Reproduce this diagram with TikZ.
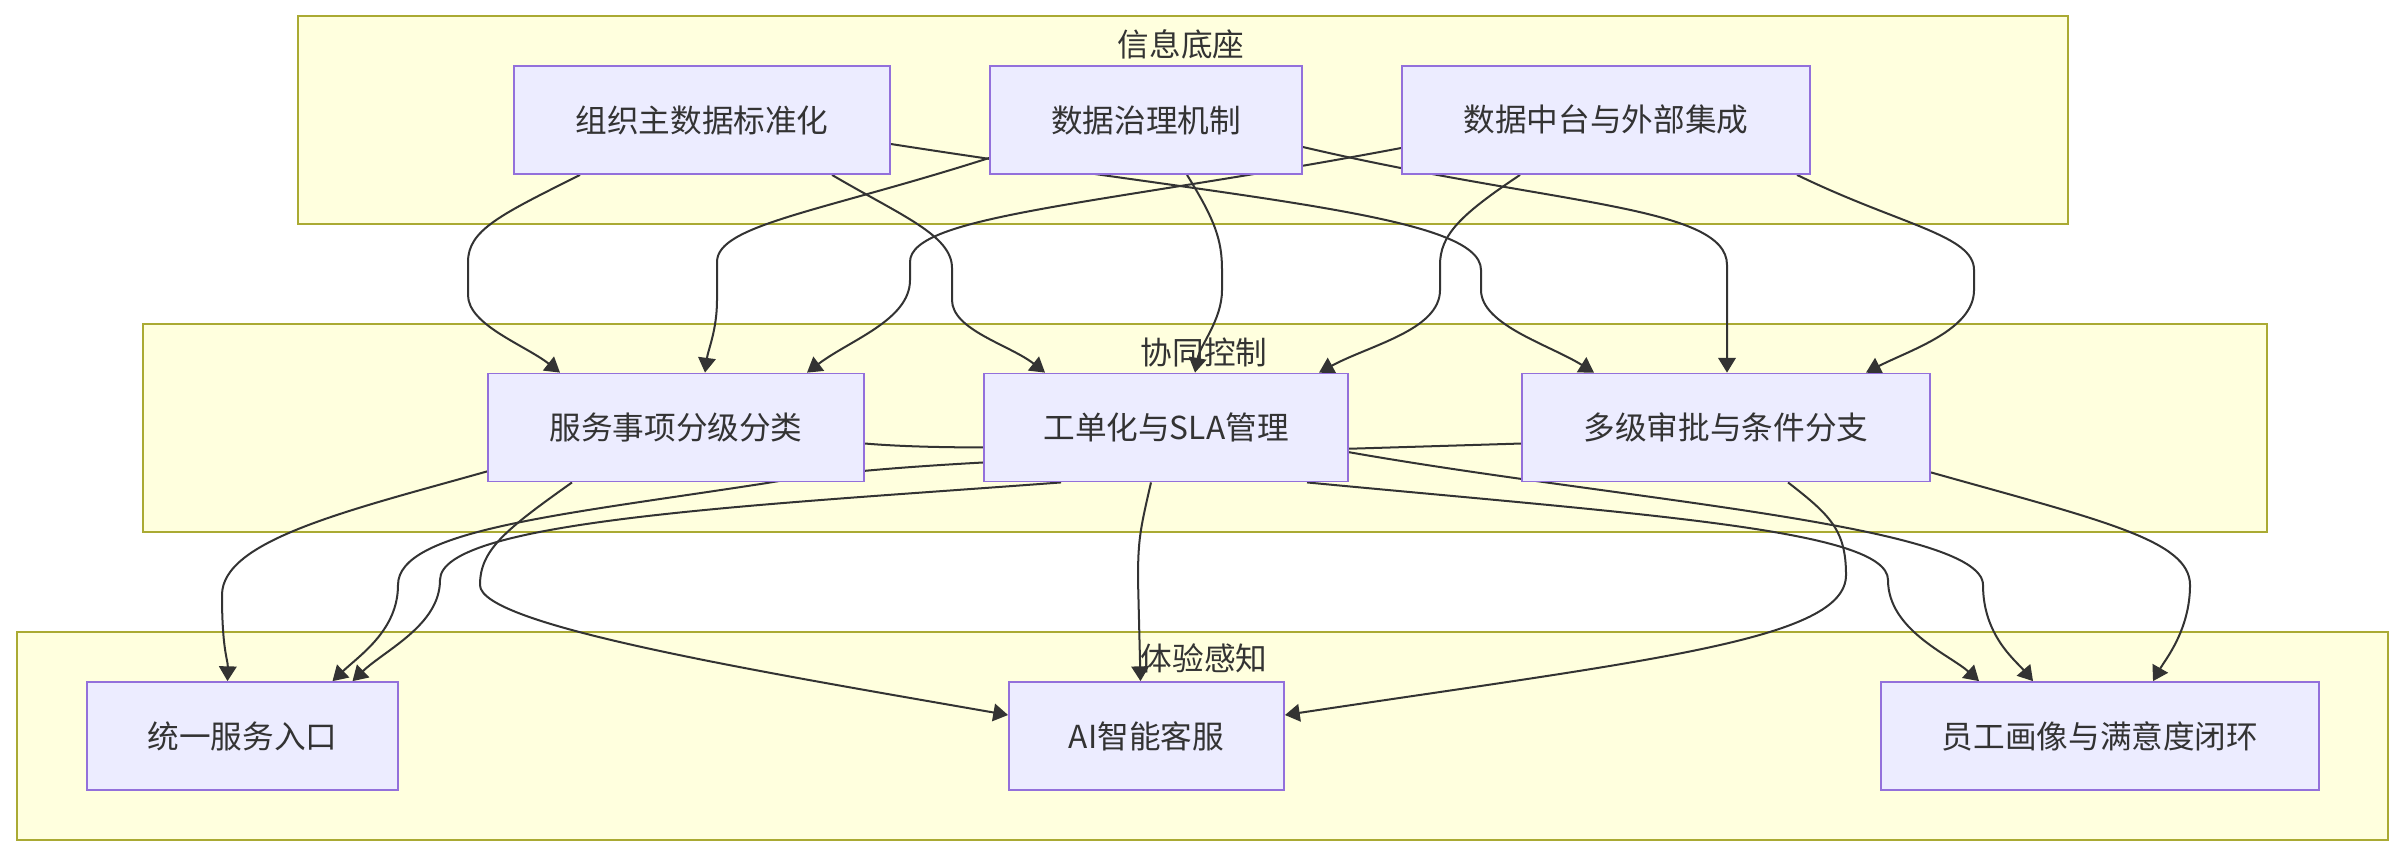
\documentclass[tikz,border=0pt]{standalone}
\usepackage{fontspec}
\setmainfont{Noto Sans CJK SC}
\usetikzlibrary{positioning}
\usetikzlibrary{calc}
\usetikzlibrary{arrows.meta}
\definecolor{grpfill}{HTML}{FFFFDE}
\definecolor{grpline}{HTML}{AAAA33}
\definecolor{nodefill}{HTML}{ECECFF}
\definecolor{nodeline}{HTML}{9370DB}
\definecolor{txt}{HTML}{333333}
\pgfdeclarelayer{bg}
\pgfdeclarelayer{fg}
\pgfsetlayers{bg,main,fg}
\tikzset{grp/.style = {fill=grpfill, draw=grpline, line width=0.57pt}}
\tikzset{grptitle/.style = {text=txt, inner sep=0, font=\fontsize{9}{11}\selectfont}}
\tikzset{box/.style = {draw=nodeline, fill=nodefill, line width=0.5pt,
                       minimum height=1.08cm, inner sep=0, text=txt,
                       font=\fontsize{9}{11}\selectfont}}
\tikzset{conn/.style = {draw=txt, line width=0.57pt,
                        -{Triangle[length=4.2pt,width=5pt]}}}

\begin{document}
\begin{tikzpicture}[x=0.01cm, y=-0.01cm]
    \useasboundingbox (0,0) rectangle (2407,856);

    % Draw the groups
    \begin{pgfonlayer}{bg}
      \draw[grp] (298,16) rectangle (2068,224);
      \draw[grp] (143,324) rectangle (2267,532);
      \draw[grp] (17,632) rectangle (2388,840);
      \node[grptitle] (g1) at (1181,44) {信息底座};
      \node[grptitle] (g2) at (1204,352) {协同控制};
      \node[grptitle] (g3) at (1204,658) {体验感知};
    \end{pgfonlayer}

    % Draw the nodes
    \begin{pgfonlayer}{fg}
      \node[box, minimum width=3.76cm] (A1) at (702,120) {组织主数据标准化};
      \node[box, minimum width=3.12cm] (A2) at (1146,120) {数据治理机制};
      \node[box, minimum width=4.08cm] (A3) at (1606,120) {数据中台与外部集成};
      \node[box, minimum width=3.76cm] (B1) at (676,427.5) {服务事项分级分类};
      \node[box, minimum width=3.64cm] (B2) at (1166,427.5) {工单化与SLA管理};
      \node[box, minimum width=4.08cm] (B3) at (1726,427.5) {多级审批与条件分支};
      \node[box, minimum width=3.11cm] (C1) at (242.5,736) {统一服务入口};
      \node[box, minimum width=2.75cm] (C2) at (1146.5,736) {AI智能客服};
      \node[box, minimum width=4.38cm] (C3) at (2100,736) {员工画像与满意度闭环};
    \end{pgfonlayer}

    % Top row to middle row
    \draw[conn] ($(A1.south)+(-122,0)$) .. controls (500,215) and (468,230) .. (468,262) -- (468,295)
        .. controls (468,325) and (525,345) .. ($(B1.north)+(-116,0)$);
    \draw[conn] ($(A1.south)+(130,0)$) .. controls (900,215) and (952,235) .. (952,268) -- (952,300)
        .. controls (952,330) and (1010,345) .. ($(B2.north)+(-121,0)$);
    \draw[conn] ($(A1.east)+(0,24)$) .. controls (1250,200) and (1481,215) .. (1481,270) -- (1481,290)
        .. controls (1481,325) and (1550,345) .. ($(B3.north)+(-132,0)$);
    \draw[conn] ($(A2.west)+(0,38)$) .. controls (820,212) and (717,225) .. (717,262) -- (717,300)
        .. controls (717,330) and (708,350) .. ($(B1.north)+(29,0)$);
    \draw[conn] ($(A2.south)+(41,0)$) .. controls (1215,220) and (1222,240) .. (1222,270) -- (1222,290)
        .. controls (1222,320) and (1200,345) .. ($(B2.north)+(29,0)$);
    \draw[conn] ($(A2.east)+(0,27)$) .. controls (1550,205) and (1727,205) .. (1727,265)
        -- ($(B3.north)+(1,0)$);
    \draw[conn] ($(A3.west)+(0,28)$) .. controls (1100,205) and (910,215) .. (910,262) -- (910,280)
        .. controls (910,320) and (850,340) .. ($(B1.north)+(131,0)$);
    \draw[conn] ($(A3.south)+(-86,0)$) .. controls (1460,215) and (1440,235) .. (1440,265) -- (1440,290)
        .. controls (1440,330) and (1370,345) .. ($(B2.north)+(153,0)$);
    \draw[conn] ($(A3.south)+(191,0)$) .. controls (1900,225) and (1974,235) .. (1974,270) -- (1974,290)
        .. controls (1974,330) and (1910,350) .. ($(B3.north)+(140,0)$);

    % Middle row to bottom row
    \draw[conn] ($(B1.south west)+(0,-11)$) .. controls (350,510) and (222,540) .. (222,595)
        .. controls (222,650) and (228,660) .. ($(C1.north)+(-15,0)$);
    \draw[conn] ($(B1.south)+(-104,0)$) .. controls (505,530) and (480,550) .. (480,585)
        .. controls (480,625) and (750,670) .. ($(C2.west)+(0,-21)$);
    \draw[conn] ($(B1.east)+(0,16)$) .. controls (1000,455) and (1250,436) .. (1348,452)
        .. controls (1620,500) and (1983,525) .. (1983,585)
        .. controls (1983,635) and (2015,660) .. ($(C3.north)+(-67,0)$);
    \draw[conn] ($(B2.south)+(-105,0)$) .. controls (760,505) and (440,520) .. (440,580)
        .. controls (440,625) and (385,650) .. ($(C1.north)+(110,0)$);
    \draw[conn] ($(B2.south)+(-15,0)$) .. controls (1140,530) and (1138,540) .. (1138,580)
        -- ($(C2.north)+(-6,0)$);
    \draw[conn] ($(B2.south)+(141,0)$) .. controls (1650,515) and (1888,530) .. (1888,580)
        .. controls (1888,630) and (1950,655) .. ($(C3.north)+(-121,0)$);
    \draw[conn] ($(B3.west)+(0,16)$) .. controls (1150,455) and (900,460) .. (767,483)
        .. controls (560,515) and (398,530) .. (398,585)
        .. controls (398,630) and (360,655) .. ($(C1.north)+(90,0)$);
    \draw[conn] ($(B3.south)+(62,0)$) .. controls (1830,515) and (1846,530) .. (1846,575)
        .. controls (1846,640) and (1650,660) .. ($(C2.east)+(0,-21)$);
    \draw[conn] ($(B3.south east)+(0,-10)$) .. controls (2100,520) and (2190,540) .. (2190,585)
        .. controls (2190,630) and (2165,660) .. ($(C3.north)+(53,0)$);
\end{tikzpicture}
\end{document}
